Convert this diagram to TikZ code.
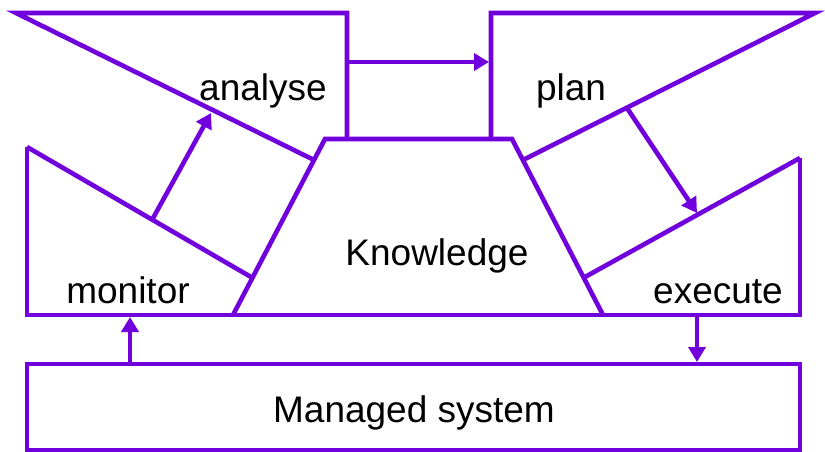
\documentclass[tikz,border=0pt]{standalone}
\usepackage{fontspec}
\setmainfont{Liberation Sans}
\usetikzlibrary{arrows.meta}
\definecolor{loop}{RGB}{112,0,220}
\tikzset{
  frame/.style={draw=loop, line width=4.6pt, line join=miter},
  flow/.style={draw=loop, line width=4.6pt, -{Triangle[length=15pt,width=17pt]}},
  label/.style={inner sep=0pt, anchor=base, font=\fontsize{37}{44}\selectfont},
}
\begin{document}
\begin{tikzpicture}[x=1pt,y=-1pt]
\useasboundingbox (0,0) rectangle (825,452);

% corner points of the loop phases
\coordinate (mTop) at (27,147);
\coordinate (mBot) at (27,315);
\coordinate (eBot) at (800,315);
\coordinate (eTop) at (800,158);
\coordinate (mIn)  at (251,277);
\coordinate (eIn)  at (585,277);
\coordinate (kBL)  at (233,315);
\coordinate (kTL)  at (325,139);
\coordinate (kTR)  at (512,139);
\coordinate (kBR)  at (603,315);
\coordinate (aTip) at (16,13);
\coordinate (aTR)  at (347,13);
\coordinate (aBR)  at (347,139);
\coordinate (aIn)  at (314,160);
\coordinate (pTip) at (815,13);
\coordinate (pTL)  at (491,13);
\coordinate (pBL)  at (491,139);
\coordinate (pIn)  at (523,160);

% monitor / execute outline
\draw[frame] (mTop) -- (mBot) -- (eBot) -- (eTop);
\draw[frame] (mTop) -- (mIn);
\draw[frame] (eTop) -- (eIn);
% knowledge trapezoid
\draw[frame] (kBL) -- (kTL) -- (kTR) -- (kBR);
% analyse and plan
\draw[frame] (aIn) -- (aTip) -- (aTR) -- (aBR);
\draw[frame] (pIn) -- (pTip) -- (pTL) -- (pBL);
% managed system
\node[frame, minimum width=773pt, minimum height=86pt, inner sep=0pt, outer sep=0pt,
      anchor=north west] (sys) at (27,364) {};
\node[label] (sysT) at (414,422) {Managed system};

% labels
\node[label] (mon) at (128,303) {monitor};
\node[label] (ana) at (263,100) {analyse};
\node[label] (pla) at (571,100) {plan};
\node[label] (exe) at (718,303) {execute};
\node[label] (kno) at (437,265) {Knowledge};

% connector ends
\coordinate (a1) at (152,220);
\coordinate (a2) at (211,113);
\coordinate (p1) at (627,108);
\coordinate (p2) at (697,213);
\coordinate (t1) at (347,62);
\coordinate (t2) at (489,62);
\coordinate (s1) at (sys.north -| 130,0);
\coordinate (s2) at (130,317);
\coordinate (x1) at (697,315);
\coordinate (x2) at (697,362);

\draw[flow] (t1) -- (t2);
\draw[flow] (a1) -- (a2);
\draw[flow] (p1) -- (p2);
\draw[flow] (s1) -- (s2);
\draw[flow] (x1) -- (x2);
\end{tikzpicture}
\end{document}
